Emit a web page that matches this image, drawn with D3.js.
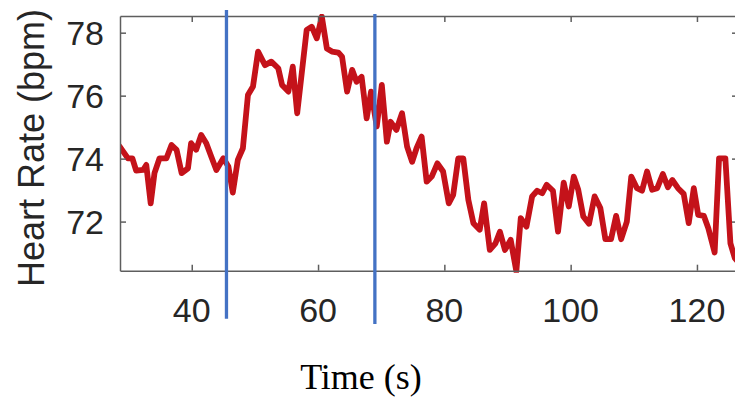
<!DOCTYPE html>
<html>
<head>
<meta charset="utf-8">
<script src="https://cdn.jsdelivr.net/npm/d3@7"></script>
<style>
  body { margin: 0; background: #fff; }
  svg { display: block; }
</style>
</head>
<body>
<svg id="chart" width="735" height="398"></svg>
<script>
// heart rate trace (time in s, bpm)
var times = [28.6, 29.9, 30.6, 31.2, 32.3, 32.8, 33.5, 34.1, 34.9, 36.0, 36.8, 37.6, 38.4, 39.4,
  39.9, 40.7, 41.5, 42.3, 43.1, 43.9, 45.0, 45.8, 46.5, 47.3, 48.1, 48.9, 49.7, 50.5, 51.6,
  52.6, 53.7, 54.3, 55.3, 56.0, 56.7, 58.2, 59.0, 59.8, 60.6, 61.4, 62.2, 63.2, 63.8, 64.6,
  65.4, 66.1, 66.9, 67.7, 68.4, 69.3, 70.1, 70.9, 71.5, 72.4, 73.3, 74.1, 74.9, 75.6, 76.4,
  77.2, 78.0, 78.9, 79.8, 80.7, 81.4, 82.2, 83.0, 83.8, 84.6, 85.6, 86.3, 87.2, 88.1, 88.8,
  89.6, 90.5, 91.4, 92.1, 93.0, 93.9, 94.7, 95.5, 96.2, 97.2, 98.0, 98.9, 99.7, 100.5,
  101.2, 102.0, 102.9, 103.8, 104.7, 105.5, 106.4, 107.2, 108.0, 108.9, 109.6, 110.5,
  111.3, 112.1, 112.9, 113.7, 114.6, 115.4, 116.1, 117.0, 117.9, 118.7, 119.5, 120.2,
  121.1, 121.8, 122.8, 123.5, 124.5, 125.3, 126.0, 126.6];
var heartRate = [74.38, 74.01, 74.01, 73.62, 73.64, 73.80, 72.58, 73.54, 74.01, 74.01, 74.43,
  74.28, 73.54, 73.69, 74.49, 74.28, 74.75, 74.49, 74.06, 73.64, 74.01, 73.75, 72.92, 73.96,
  74.33, 76.02, 76.29, 77.40, 76.97, 77.08, 76.87, 76.34, 76.13, 76.92, 75.44, 78.09, 78.19,
  77.82, 78.51, 77.50, 77.40, 77.37, 77.24, 76.13, 76.82, 76.44, 76.60, 75.28, 76.13, 75.02,
  76.34, 74.54, 75.17, 74.91, 75.44, 74.38, 73.90, 74.33, 74.70, 73.27, 73.43, 73.85, 73.59,
  72.58, 72.85, 74.01, 74.01, 72.69, 71.95, 71.74, 72.58, 71.10, 71.31, 71.68, 71.10, 71.42,
  70.42, 72.11, 71.84, 72.80, 72.98, 72.90, 73.17, 72.98, 71.68, 73.24, 72.48, 73.43,
  73.01, 72.16, 71.93, 72.80, 72.43, 71.44, 71.44, 72.18, 71.44, 72.00, 73.43, 73.06,
  72.98, 73.59, 73.01, 73.06, 73.51, 73.09, 73.32, 73.06, 72.88, 71.95, 73.06, 72.21,
  72.18, 71.79, 71.02, 74.01, 74.01, 71.31, 70.84, 70.70];

var xTicks = [40, 60, 80, 100, 120];
var yTicks = [72, 74, 76, 78];

// vertical event markers (time, top and bottom in bpm units)
var markerTimes = [45.5, 69.0];
var markerTop = [78.72, 78.59];
var markerBottom = [68.91, 68.75];

var svg = d3.select("#chart");

var mLeft = 120, mRight = 738, mTop = 16, mBottom = 270.7;

var x = d3.scaleLinear().domain([28.64, 126.5]).range([mLeft, mRight]);
var y = d3.scaleLinear().domain([70.44, 78.53]).range([mBottom, mTop]);

var axisColor = "#5e5e5e";
var textColor = "#262626";

svg.append("defs").append("clipPath").attr("id", "plotclip")
  .append("rect")
  .attr("x", mLeft).attr("y", mTop - 2)
  .attr("width", mRight - mLeft).attr("height", mBottom - mTop + 4);

// heart rate line
var line = d3.line()
  .x(function(d, i) { return x(times[i]); })
  .y(function(d) { return y(d); });

svg.append("path")
  .datum(heartRate)
  .attr("clip-path", "url(#plotclip)")
  .attr("d", line)
  .attr("fill", "none")
  .attr("stroke", "#c4121a")
  .attr("stroke-width", 5.8)
  .attr("stroke-linejoin", "round")
  .attr("stroke-linecap", "round");

// axes with inward ticks (box style)
var tickLen = 6;
var xb = d3.axisBottom(x).tickValues(xTicks).tickSizeInner(-tickLen).tickSizeOuter(0).tickFormat("");
var xt = d3.axisTop(x).tickValues(xTicks).tickSizeInner(-tickLen).tickSizeOuter(0).tickFormat("");
var yl = d3.axisLeft(y).tickValues(yTicks).tickSizeInner(-tickLen).tickSizeOuter(0).tickFormat("");
var yr = d3.axisRight(y).tickValues(yTicks).tickSizeInner(-tickLen).tickSizeOuter(0).tickFormat("");

function styleAxis(g) {
  g.selectAll("path, line").attr("stroke", axisColor).attr("stroke-width", 1.5);
}

svg.append("g").attr("transform", "translate(0," + mBottom + ")").call(xb).call(styleAxis);
svg.append("g").attr("transform", "translate(0," + mTop + ")").call(xt).call(styleAxis);
svg.append("g").attr("transform", "translate(" + mLeft + ",0)").call(yl).call(styleAxis);
svg.append("g").attr("transform", "translate(" + mRight + ",0)").call(yr).call(styleAxis);

// tick labels
svg.append("g").selectAll("text")
  .data(xTicks).enter().append("text")
  .attr("x", function(d) { return x(d); })
  .attr("y", 322)
  .attr("text-anchor", "middle")
  .attr("font-family", "Liberation Sans, Arial, sans-serif")
  .attr("font-size", 34)
  .attr("fill", textColor)
  .text(function(d) { return d; });

svg.append("g").selectAll("text")
  .data(yTicks).enter().append("text")
  .attr("x", 104)
  .attr("y", function(d) { return y(d) + 12; })
  .attr("text-anchor", "end")
  .attr("font-family", "Liberation Sans, Arial, sans-serif")
  .attr("font-size", 34)
  .attr("fill", textColor)
  .text(function(d) { return d; });

// event markers
svg.append("g").selectAll("line")
  .data(markerTimes).enter().append("line")
  .attr("x1", function(d) { return x(d); })
  .attr("x2", function(d) { return x(d); })
  .attr("y1", function(d, i) { return y(markerTop[i]); })
  .attr("y2", function(d, i) { return y(markerBottom[i]); })
  .attr("stroke", "#4472c4")
  .attr("stroke-width", 3.3);

// axis titles
svg.append("text")
  .attr("transform", "translate(44,148) rotate(-90)")
  .attr("text-anchor", "middle")
  .attr("font-family", "Liberation Sans, Arial, sans-serif")
  .attr("font-size", 36)
  .attr("fill", textColor)
  .text("Heart Rate (bpm)");

svg.append("text")
  .attr("x", 361)
  .attr("y", 389)
  .attr("text-anchor", "middle")
  .attr("font-family", "Liberation Serif, Times New Roman, serif")
  .attr("font-size", 36)
  .attr("fill", "#000")
  .text("Time (s)");
</script>
</body>
</html>
